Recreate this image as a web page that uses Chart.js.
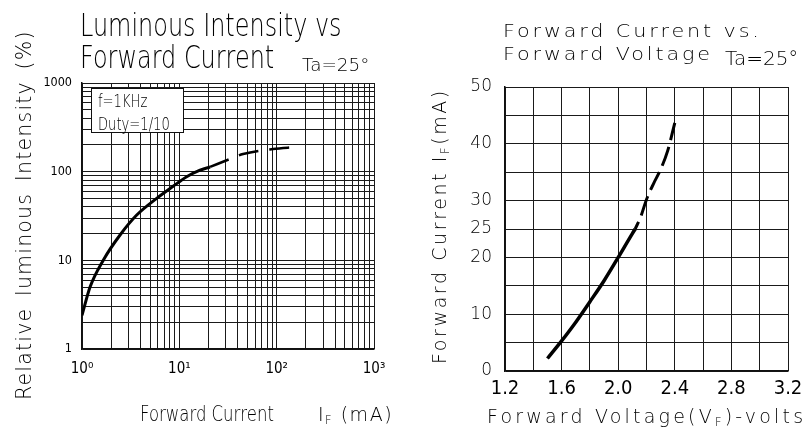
<!DOCTYPE html>
<html>
<head>
<meta charset="utf-8">
<script src="https://cdn.jsdelivr.net/npm/chart.js@4.4.0/dist/chart.umd.min.js"></script>
<style>
  body { margin: 0; background: #fff; }
  #wrap { position: relative; width: 809px; height: 438px; overflow: hidden; font-family: "DejaVu Sans", sans-serif; color: #000; }
  canvas { position: absolute; top: 0; }
  .t { position: absolute; white-space: nowrap; line-height: 1; font-weight: 200; }
  .narrow { transform-origin: left top; }
  .rot { transform-origin: left top; transform: rotate(-90deg); }
  sub { font-size: 0.6em; vertical-align: -0.25em; }
  #note { position: absolute; left: 91px; top: 88px; width: 91px; height: 43px; border: 1.5px solid #111; background: #fff; }
</style>
</head>
<body>
<div id="wrap">
  <canvas id="lum" width="405" height="438" style="left:0"></canvas>
  <canvas id="fwd" width="404" height="438" style="left:405px"></canvas>

  <div class="t narrow" style="left:80px;top:9px;font-size:31.5px;line-height:32px;transform:scaleX(0.76)">Luminous Intensity vs<br>Forward Current</div>
  <div class="t" style="left:302px;top:56px;font-size:18.4px">Ta=25°</div>
  <div id="note"></div>
  <div class="t narrow" style="left:98px;top:90px;font-size:17.5px;line-height:23px;transform:scaleX(0.75)">f=1KHz<br>Duty=1/10</div>
  <div class="t rot" style="left:14px;top:400px;font-size:20.5px;letter-spacing:1.2px;word-spacing:4px">Relative luminous Intensity (%)</div>
  <div class="t narrow" style="left:140px;top:403px;font-size:22px;transform:scaleX(0.75)">Forward Current</div>
  <div class="t" style="left:318px;top:405px;font-size:19px;letter-spacing:1.5px">I<sub>F</sub> (mA)</div>

  <div class="t narrow" style="left:503px;top:19px;font-size:18px;line-height:23px;letter-spacing:2.5px;transform:scaleX(1.15)">Forward Current vs.<br>Forward Voltage</div>
  <div class="t" style="left:725px;top:48px;font-size:20px">Ta=25°</div>
  <div class="t rot" style="left:430px;top:364px;font-size:19px;letter-spacing:2.6px">Forward Current I<sub>F</sub>(mA)</div>
  <div class="t" style="left:487px;top:407px;font-size:19px;letter-spacing:3.2px">Forward Voltage(V<sub>F</sub>)-volts</div>
</div>
<script>
// luminous intensity vs forward current (log-log)
const lumSolidIf = [1, 1.21, 1.66, 2.46, 3.65, 5.85, 8.7, 11.9, 16.3, 20.7];
const lumSolidPct = [2.4, 5.0, 10.1, 19.3, 32.4, 50, 68.8, 87.6, 104, 113];
const lumDashIf = [20.7, 34.8, 45.2, 91.8, 155];
const lumDashPct = [113, 142, 158, 180, 189];
const lumDecades = [1, 10, 100, 1000];
const lumXLabels = ["10\u2070", "10\u00b9", "10\u00b2", "10\u00b3"];
const lumYLabels = ["1", "10", "100", "1000"];
const logSteps = [1, 2, 3, 4, 5, 6, 7, 8, 9];

// forward current vs forward voltage
const fwdSolidVf = [1.5, 1.6, 1.7, 1.8, 1.9, 2.0, 2.1, 2.12];
const fwdSolidIf = [2.2, 5.3, 8.6, 12.2, 15.9, 20, 24.2, 25];
const fwdDashVf = [2.12, 2.16, 2.2, 2.25, 2.3, 2.35, 2.4];
const fwdDashIf = [25, 27.2, 30.2, 33, 35.5, 38.8, 43.7];
const vfGrid = [1.2, 1.4, 1.6, 1.8, 2.0, 2.2, 2.4, 2.6, 2.8, 3.0, 3.2];
const vfLabels = ["1.2", "1.6", "2.0", "2.4", "2.8", "3.2"];
const ifGrid = [0, 5, 10, 15, 20, 25, 30, 35, 40, 45, 50];
const ifLabels = [0, 10, 20, 25, 30, 40, 50];

const logGrid = [];
lumDecades.slice(0, 3).forEach((d) => logSteps.forEach((s) => logGrid.push(d * s)));
logGrid.push(1000);

const pts = (xs, ys) => xs.map((x, i) => ({ x, y: ys[i] }));
const gridColor = "#1a1a1a";
const narrowFont = "'DejaVu Sans Condensed', sans-serif";

new Chart(document.getElementById("lum"), {
  type: "line",
  data: {
    datasets: [
      { data: pts(lumSolidIf, lumSolidPct), borderColor: "#000", borderWidth: 3, pointRadius: 0, tension: 0.4, cubicInterpolationMode: "monotone" },
      { data: pts(lumDashIf, lumDashPct), borderColor: "#000", borderWidth: 2.5, borderDash: [20, 11], pointRadius: 0, tension: 0.4, cubicInterpolationMode: "monotone" },
    ],
  },
  options: {
    responsive: false,
    animation: false,
    layout: { padding: { top: 83, right: 31, left: 0, bottom: 0 } },
    plugins: { legend: { display: false }, tooltip: { enabled: false } },
    scales: {
      x: {
        type: "logarithmic",
        min: 1,
        max: 1000,
        afterBuildTicks: (s) => { s.ticks = logGrid.map((v) => ({ value: v })); },
        afterFit: (s) => { s.height = 89; },
        grid: { color: gridColor, lineWidth: 1, drawTicks: false },
        border: { color: "#111", width: 1.5 },
        ticks: {
          autoSkip: false, maxRotation: 0, padding: 11, color: "#000",
          font: { family: narrowFont, size: 15 },
          callback: (v) => { const i = lumDecades.indexOf(v); return i >= 0 ? lumXLabels[i] : ""; },
        },
      },
      y: {
        type: "logarithmic",
        min: 1,
        max: 1000,
        afterBuildTicks: (s) => { s.ticks = logGrid.map((v) => ({ value: v })); },
        afterFit: (s) => { s.width = 82; },
        grid: { color: gridColor, lineWidth: 1, drawTicks: false },
        border: { color: "#111", width: 1.5 },
        ticks: {
          autoSkip: false, padding: 10, color: "#000",
          font: { family: narrowFont, size: 12.5 },
          callback: (v) => { const i = lumDecades.indexOf(v); return i >= 0 ? lumYLabels[i] : ""; },
        },
      },
    },
  },
});

new Chart(document.getElementById("fwd"), {
  type: "line",
  data: {
    datasets: [
      { data: pts(fwdSolidVf, fwdSolidIf), borderColor: "#000", borderWidth: 3.5, pointRadius: 0, tension: 0.4, cubicInterpolationMode: "monotone" },
      { data: pts(fwdDashVf, fwdDashIf), borderColor: "#000", borderWidth: 3, borderDash: [20, 7], borderDashOffset: 12, pointRadius: 0, tension: 0.4, cubicInterpolationMode: "monotone" },
    ],
  },
  options: {
    responsive: false,
    animation: false,
    layout: { padding: { top: 87, right: 21, left: 0, bottom: 0 } },
    plugins: { legend: { display: false }, tooltip: { enabled: false } },
    scales: {
      x: {
        type: "linear",
        min: 1.2,
        max: 3.2,
        afterBuildTicks: (s) => { s.ticks = vfGrid.map((v) => ({ value: v })); },
        afterFit: (s) => { s.height = 67; },
        grid: { color: gridColor, lineWidth: 1, drawTicks: false },
        border: { color: "#111", width: 1.5 },
        ticks: {
          autoSkip: false, maxRotation: 0, padding: 6, color: "#000",
          font: { family: "DejaVu Sans Condensed", size: 20 },
          callback: (v) => { const s = Number(v).toFixed(1); return vfLabels.includes(s) ? s : ""; },
        },
      },
      y: {
        type: "linear",
        min: 0,
        max: 50,
        afterBuildTicks: (s) => { s.ticks = ifGrid.map((v) => ({ value: v })); },
        afterFit: (s) => { s.width = 100; },
        grid: { color: gridColor, lineWidth: 1, drawTicks: false },
        border: { color: "#111", width: 1.5 },
        ticks: {
          autoSkip: false, padding: 13, color: "#000",
          font: { family: "DejaVu Sans", size: 17, weight: 200 },
          callback: (v) => (ifLabels.includes(v) ? String(v) : ""),
        },
      },
    },
  },
});
</script>
</body>
</html>
